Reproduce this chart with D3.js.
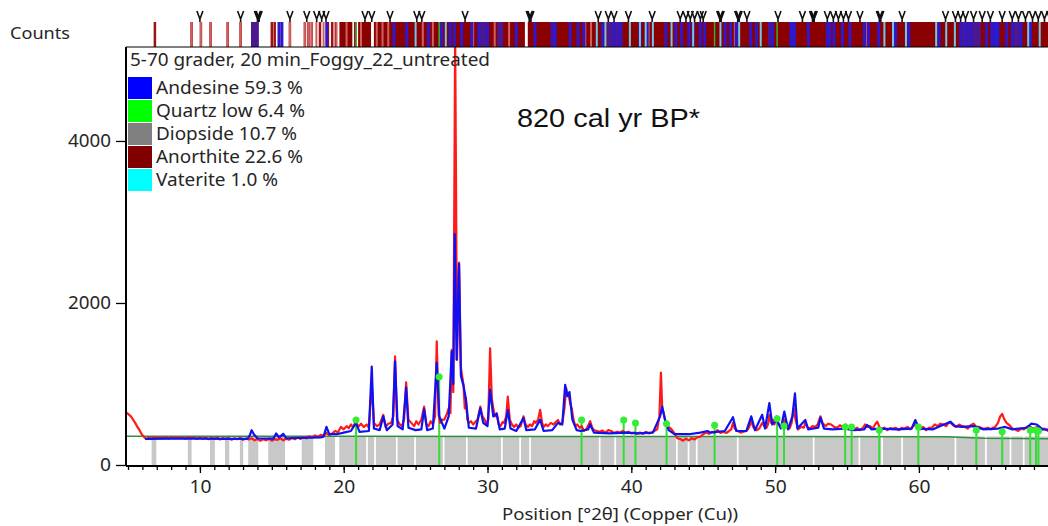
<!DOCTYPE html>
<html>
<head>
<meta charset="utf-8">
<script src="https://cdn.jsdelivr.net/npm/d3@7"></script>
<style>
  html, body { margin: 0; padding: 0; background: #fff; }
  svg { display: block; }
  .lbl { font-family: "Noto Sans", "DejaVu Sans", sans-serif; fill: #262626; }
</style>
</head>
<body>
<svg id="chart" width="1048" height="526"></svg>
<script>
// ---- Scan: measured counts (red) as [2theta, counts] vertices
const measured = [
  [4.86,650],[5.0,630],[5.2,600],[5.35,560],[5.5,520],[5.65,470],[5.8,430],[5.95,380],[6.1,350],[6.2,330],[6.3,320],[6.45,340],[6.6,325],[6.8,345],[7.0,330],[7.2,342],[7.4,330],[7.6,345],[7.8,328],
  [8.0,342],[8.2,330],[8.4,345],[8.6,332],[8.8,340],[9.0,325],[9.2,345],[9.4,330],[9.6,340],[9.8,322],[10.0,338],[10.2,325],[10.4,340],[10.6,318],[10.8,335],[11.0,322],[11.2,340],[11.4,315],[11.6,332],[11.8,320],
  [12.0,335],[12.2,312],[12.4,330],[12.6,318],[12.8,335],[13.0,310],[13.2,328],[13.4,315],[13.6,330],[13.8,305],[14.0,322],[14.2,300],[14.4,318],[14.6,305],[14.8,325],[15.0,300],[15.2,320],[15.4,310],[15.6,330],[15.8,305],
  [16.0,325],[16.2,312],[16.4,335],[16.6,318],[16.8,338],[17.0,322],[17.2,345],[17.4,330],[17.6,355],[17.8,340],[18.0,365],[18.2,345],[18.4,372],[18.6,360],[18.8,395],[19.0,370],[19.2,390],[19.4,420],[19.6,405],
  [19.8,470],[20.0,440],[20.2,480],[20.35,455],[20.5,500],[20.65,470],[20.85,540],[21.0,470],[21.2,510],[21.4,470],[21.6,500],[21.75,460],[21.95,1000],[22.1,520],[22.3,480],[22.5,500],
  [22.75,620],[22.9,470],[23.1,510],[23.3,520],[23.45,600],[23.57,1340],[23.7,560],[23.9,500],[24.05,480],[24.2,560],[24.34,1020],[24.5,560],[24.7,520],[24.9,480],[25.05,540],[25.2,500],
  [25.4,560],[25.59,720],[25.75,500],[25.9,480],[26.05,540],[26.2,500],[26.35,600],[26.47,1525],[26.6,620],[26.7,520],[26.85,560],[27.0,560],[27.15,620],[27.3,700],[27.42,640],[27.51,1420],[27.62,900],[27.75,5300],
  [27.88,1300],[28.02,2500],[28.15,1200],[28.33,990],[28.42,700],[28.49,830],[28.6,560],[28.7,520],[28.85,540],[29.0,500],[29.15,530],[29.3,560],[29.5,720],[29.65,600],[29.8,560],
  [29.92,500],[30.05,560],[30.18,1440],[30.3,820],[30.4,700],[30.52,600],[30.64,640],[30.78,500],[30.9,480],[31.05,530],[31.15,520],[31.3,600],[31.41,845],[31.55,560],[31.7,500],[31.85,470],[32.0,500],[32.15,460],[32.3,480],
  [32.5,600],[32.65,500],[32.8,470],[32.95,500],[33.1,480],[33.25,540],[33.35,520],[33.52,560],[33.66,680],[33.8,520],[33.9,470],[34.05,500],[34.2,480],[34.4,520],[34.6,500],[34.75,530],[34.9,555],[35.05,500],[35.2,520],
  [35.35,700],[35.47,950],[35.55,860],[35.63,880],[35.75,760],[35.85,700],[35.98,560],[36.1,480],[36.25,500],[36.4,460],[36.55,480],[36.7,420],[36.9,450],[37.14,540],[37.28,460],[37.4,430],[37.6,420],[37.8,410],[38.0,425],[38.2,400],
  [38.4,430],[38.6,420],[38.8,395],[39.0,410],[39.2,400],[39.4,420],[39.6,395],[39.8,410],[40.0,390],[40.2,400],[40.4,385],[40.6,400],[40.8,385],[41.0,410],[41.2,390],[41.4,400],[41.6,420],[41.8,440],[41.95,600],[42.06,1140],
  [42.15,700],[42.25,640],[42.35,560],[42.45,520],[42.6,470],[42.8,440],[43.0,390],[43.2,330],[43.4,320],[43.6,300],[43.8,325],[44.0,305],[44.2,330],[44.4,315],[44.6,345],[44.8,350],[45.0,380],[45.2,400],[45.4,385],[45.6,410],
  [45.8,400],[46.0,430],[46.2,395],[46.4,410],[46.6,395],[46.8,420],[46.95,440],[47.07,520],[47.2,450],[47.4,420],[47.6,400],[47.8,410],[48.0,420],[48.1,440],[48.2,470],[48.34,540],[48.5,460],[48.7,430],[48.9,450],[49.1,520],
  [49.25,480],[49.4,460],[49.5,500],[49.6,620],[49.72,520],[49.85,560],[49.95,500],[50.1,600],[50.25,500],[50.4,470],[50.52,500],[50.64,560],[50.8,470],[51.0,450],[51.15,520],[51.29,700],[51.42,560],[51.6,440],[51.8,470],[52.0,460],
  [52.1,520],[52.25,470],[52.4,450],[52.6,480],[52.8,470],[52.95,500],[53.15,600],[53.3,520],[53.5,480],[53.7,510],[53.9,500],[54.1,470],[54.3,460],[54.5,490],[54.7,470],[54.9,500],[55.1,450],[55.3,480],[55.5,440],[55.7,460],
  [55.9,430],[56.1,460],[56.25,500],[56.4,470],[56.6,480],[56.8,450],[56.95,500],[57.1,535],[57.25,470],[57.4,440],[57.6,460],[57.8,430],[58.0,455],[58.2,450],[58.4,460],[58.6,430],[58.8,460],[59.0,450],[59.2,470],[59.4,440],
  [59.55,470],[59.75,500],[59.9,460],[60.1,440],[60.3,470],[60.5,430],[60.7,460],[60.9,460],[61.1,500],[61.3,480],[61.5,510],[61.7,500],[61.9,480],[62.05,520],[62.2,520],[62.4,490],[62.6,470],[62.8,500],[63.0,480],[63.2,470],
  [63.4,450],[63.6,490],[63.8,510],[64.0,470],[64.2,470],[64.4,450],[64.6,450],[64.8,460],[65.0,440],[65.15,460],[65.3,470],[65.5,520],[65.65,600],[65.79,630],[65.95,560],[66.1,520],[66.3,490],[66.5,450],[66.7,440],[66.9,420],
  [67.1,450],[67.3,440],[67.5,470],[67.7,480],[67.9,450],[68.1,460],[68.3,480],[68.5,440],[68.7,450],[69.0,420],[69.2,445],[69.5,430],[69.7,440],[70.0,420]
];

// ---- Calculated profile (blue)
const calculated = [
  [6.2,322],[8.0,325],[10.0,325],[12.0,322],[13.3,322],[13.45,360],[13.6,430],[13.75,380],[14.0,330],[15.1,325],
  [15.3,390],[15.5,340],[15.8,385],[16.0,330],[18.4,340],[18.6,350],[18.8,470],[19.0,380],[19.5,380],[20.0,400],[20.5,420],
  [20.85,520],[21.1,410],[21.75,420],[21.95,1214],[22.1,450],[22.5,430],[22.75,600],[23.0,430],[23.4,500],[23.57,1280],
  [23.75,480],[24.1,440],[24.34,960],[24.5,460],[25.0,430],[25.4,440],[25.59,690],[25.8,430],[26.2,450],[26.47,1260],
  [26.65,600],[27.0,450],[27.3,600],[27.51,1400],[27.62,1000],[27.72,2850],[27.85,1300],[28.02,2480],[28.15,1100],[28.33,980],
  [28.49,820],[28.7,460],[29.2,450],[29.5,700],[29.7,520],[30.0,480],[30.18,930],[30.4,600],[30.64,630],[30.85,440],
  [31.2,450],[31.41,680],[31.6,450],[32.0,420],[32.5,580],[32.7,430],[33.3,440],[33.66,560],[33.9,420],[34.5,430],
  [34.9,520],[35.2,500],[35.4,990],[35.55,850],[35.7,900],[35.9,560],[36.2,430],[36.5,420],[37.0,440],[37.14,500],
  [37.4,400],[38.5,390],[39.6,400],[40.5,390],[41.5,400],[42.0,600],[42.15,720],[42.35,550],[42.6,430],[43.0,380],
  [44.0,380],[44.8,400],[45.3,420],[45.5,400],[46.5,420],[47.07,590],[47.3,420],[48.0,420],[48.34,600],[48.6,430],
  [49.1,620],[49.3,450],[49.6,765],[49.8,500],[50.1,560],[50.4,450],[50.64,660],[50.9,440],[51.2,600],[51.38,885],
  [51.55,450],[52.1,555],[52.3,440],[53.0,460],[53.15,585],[53.4,450],[54.0,440],[54.8,450],[55.5,430],[56.2,440],
  [56.4,495],[56.7,440],[57.3,450],[58.5,440],[59.5,450],[59.75,555],[60.0,450],[61.0,440],[61.5,480],[62.2,535],
  [62.5,480],[63.0,470],[63.8,480],[64.5,440],[65.5,450],[66.0,470],[66.5,440],[67.5,460],[67.8,510],[68.2,500],
  [68.6,440],[70.0,430]
];

// ---- Fitted background
const background = [[4.86,355],[20,355],[40,352],[62,348],[64.5,330],[70,322]];

// ---- Quartz reference peaks: position, calculated height
const quartzPos = [20.86,26.64,36.54,39.47,40.29,42.45,45.79,50.14,50.62,54.87,55.32,57.24,59.96,63.99,65.79,67.74,68.14,68.31];
const quartzCnt = [555,1090,555,555,520,510,490,570,480,470,470,430,470,430,410,430,430,420];

// ---- Grey fill segments under the background [from, to] in degrees 2theta
const greyBlocks = [
  [6.64,6.97],[9.16,9.42],[10.70,11.04],[11.74,12.04],[12.78,13.01],[13.36,14.06],[14.75,15.92],[17.08,17.88],
  [18.70,19.39],[19.69,21.56],[21.68,22.12],[22.24,23.63],[23.75,24.90],[25.02,26.89],[27.01,28.50],[28.62,30.94],
  [31.06,32.21],[32.33,32.90],[33.02,37.74],[37.86,38.82],[38.94,43.11],[43.23,43.92],[44.04,44.49],[44.61,47.34],
  [47.46,52.62],[52.74,55.80],[55.92,57.38],[57.50,58.77],[58.89,62.48],[62.60,64.60],[64.72,66.31],[66.43,67.23],[67.35,70]
];

// ---- Reference pattern strip: phases and their line positions
const anorthiteBands = [[19.7,20.6],[21.0,21.9],[22.1,32.6],[32.8,70]];
const purpleBands = [[13.55,14.1],[24.3,24.45],[29.48,29.97],[30.67,31.09],[38.3,39.4],[49.5,49.9],[62.9,64.3],[66.4,67.06]];
const andesineBands = [[51.0,51.45],[64.97,65.6]];
const anorthiteLines = [6.87,9.42,10.07,10.74,11.93,12.83,15.0,15.2,16.26,17.3,17.55,17.78,18.35,18.9,19.2,19.45,20.8];
const lightLines = [9.42,10.07,10.74,11.93,12.83,16.26,17.3,17.55,17.78,18.1,18.6,19.5,20.2,21.2,22.3,22.7,23.1,25.5,26.2,29.0,30.5,31.5,33.3,36.8,37.2,41.2,47.2,56.4];
const andesineLines = [15.5,15.7,18.82,23.5,24.38,25.9,26.8,27.4,27.7,28.2,28.9,29.4,30.0,32.0,33.3,34.5,34.7,35.75,36.3,36.7,38.0,38.8,39.2,40.6,41.1,42.4,43.1,43.5,44.0,44.3,44.79,45.1,46.53,46.9,47.3,48.3,48.7,49.8,51.27,52.31,53.63,53.8,54.1,54.68,55.2,56.2,56.49,57.2,58.37,59.3,61.4,62.9,63.3,63.6,64.7,65.1,66.1,66.5,67.1,67.76];
const vateriteLines = [25.0,27.1,37.6,38.2,39.9,40.6,41.0,41.5,42.8,44.3,46.2,47.5,49.0,57.6,58.2,59.1,61.2,61.9,62.5,67.6,68.4];
const stripQuartz = [20.86,26.64,45.79,50.14];
const peakMarks = [10.0,12.83,14.0,14.06,14.12,16.26,17.43,18.12,18.47,18.77,21.48,21.95,23.22,25.08,25.43,28.44,32.9,32.96,33.02,
  37.7,38.4,38.8,39.8,41.45,43.4,43.8,44.1,44.4,44.8,45.0,46.15,46.2,46.25,47.4,47.44,47.5,48.04,50.2,51.9,52.6,52.66,52.72,
  53.63,54.05,54.4,54.75,55.1,55.9,57.25,57.3,57.35,58.83,61.85,62.54,62.9,63.24,63.8,64.4,64.97,65.79,66.49,66.92,67.41,67.9,68.3,68.73,69.1];

// ---- Legend
const scanName = "5-70 grader, 20 min_Foggy_22_untreated";
const phaseNames = ["Andesine 59.3 %","Quartz low 6.4 %","Diopside 10.7 %","Anorthite 22.6 %","Vaterite 1.0 %"];
const phaseColors = ["#0000ff","#00ff00","#808080","#800000","#00ffff"];
const phaseLabelWidths = [147,149,141,147,122];

// ---- Axes
const xTicks = [10,20,30,40,50,60];
const yTicks = [0,2000,4000];

const svg = d3.select("#chart");
const W = 1048;
const plotLeft = 126, plotTop = 47, plotBottom = 465;

const x = d3.scaleLinear().domain([4.86, 70]).range([plotLeft, plotLeft + 65.14 * 14.38]);
const y = d3.scaleLinear().domain([0, 5160]).range([plotBottom, plotTop]);

// squeeze a label into the given width
function fit(sel, w) {
  sel.attr("textLength", w).attr("lengthAdjust", "spacingAndGlyphs");
}

svg.append("defs").append("clipPath").attr("id","clip")
  .append("rect").attr("x", plotLeft).attr("y", plotTop).attr("width", W - plotLeft).attr("height", plotBottom - plotTop);
const plot = svg.append("g");

// grey fill blocks
plot.append("g").selectAll("rect").data(greyBlocks).join("rect")
  .attr("x", d => x(d[0])).attr("width", d => x(d[1]) - x(d[0]))
  .attr("y", y(352)).attr("height", y(0) - y(352))
  .attr("fill", "#c8c8c8");

// background line
plot.append("path").datum(background)
  .attr("d", d3.line().x(d => x(d[0])).y(d => y(d[1])))
  .attr("fill","none").attr("stroke","#2f8f3f").attr("stroke-width",1.5);

// quartz sticks with markers
const qData = quartzPos.map((p,i) => [p, quartzCnt[i]]);
plot.append("g").selectAll("line").data(qData).join("line")
  .attr("x1", d => x(d[0])).attr("x2", d => x(d[0]))
  .attr("y1", y(0)).attr("y2", d => y(d[1]))
  .attr("stroke","#33dd33").attr("stroke-width",2);

const lineGen = d3.line().x(d => x(d[0])).y(d => y(d[1]));
const dataG = plot.append("g").attr("clip-path","url(#clip)");
dataG.append("path").datum(measured).attr("d", lineGen)
  .attr("fill","none").attr("stroke","#ff1a1a").attr("stroke-width",2.2).attr("stroke-linejoin","round");
dataG.append("path").datum(calculated).attr("d", lineGen)
  .attr("fill","none").attr("stroke","#1010f0").attr("stroke-width",2.2).attr("stroke-linejoin","round");

plot.append("g").selectAll("circle").data(qData).join("circle")
  .attr("cx", d => x(d[0])).attr("cy", d => y(d[1])).attr("r", 3.5).attr("fill","#33ee33");

// ---- reference strip
const sTop = 22, sBot = 47;
const strip = svg.append("g");
function bands(arr, color) {
  strip.append("g").selectAll("rect").data(arr).join("rect")
    .attr("x", d => x(d[0])).attr("width", d => x(d[1]) - x(d[0]))
    .attr("y", sTop).attr("height", sBot - sTop).attr("fill", color);
}
function sticks(arr, color, w) {
  strip.append("g").selectAll("rect").data(arr).join("rect")
    .attr("x", d => x(d) - w/2).attr("width", w)
    .attr("y", sTop).attr("height", sBot - sTop).attr("fill", color);
}
bands(anorthiteBands, "#8b0000");
sticks(anorthiteLines, "#a01010", 2.5);
sticks(lightLines, "#d06060", 2);
bands(purpleBands, "#4a1890");
bands(andesineBands, "#2a1ad0");
sticks(andesineLines, "#3018c8", 3);
sticks(vateriteLines, "#70c8e8", 2);
sticks(stripQuartz, "#30b030", 1.5);

// peak marks above the strip
strip.append("g").selectAll("path").data(peakMarks).join("path")
  .attr("d", d => { const px = x(d); return `M${px-3},11L${px},19L${px+3},11M${px},19L${px},22`; })
  .attr("fill","none").attr("stroke","#111").attr("stroke-width",1.6);

// ---- axes
const axisG = svg.append("g");
axisG.append("line").attr("x1", plotLeft).attr("x2", plotLeft).attr("y1", plotTop).attr("y2", plotBottom + 1)
  .attr("stroke","#000").attr("stroke-width",2);
axisG.append("line").attr("x1", plotLeft).attr("x2", W).attr("y1", plotBottom + 1).attr("y2", plotBottom + 1)
  .attr("stroke","#000").attr("stroke-width",2);
axisG.append("line").attr("x1", plotLeft).attr("x2", W).attr("y1", plotTop).attr("y2", plotTop)
  .attr("stroke","#000").attr("stroke-width",1);

const xAxis = d3.axisBottom(x).tickValues(d3.range(5, 70, 1)).tickSize(4).tickFormat("");
svg.append("g").attr("transform", `translate(0,${plotBottom + 1})`).call(xAxis)
  .call(g => g.select(".domain").remove())
  .call(g => g.selectAll("line").attr("stroke","#000").attr("stroke-width",1.3));
const xMajor = d3.axisBottom(x).tickValues(xTicks).tickSize(7).tickPadding(7);
svg.append("g").attr("transform", `translate(0,${plotBottom + 1})`).call(xMajor)
  .call(g => g.select(".domain").remove())
  .call(g => g.selectAll("line").attr("stroke","#000").attr("stroke-width",1.3))
  .call(g => g.selectAll("text").attr("class","lbl").attr("font-size",18)
    .attr("textLength", 22).attr("lengthAdjust","spacingAndGlyphs"));

const yAxis = d3.axisLeft(y).tickValues(yTicks).tickSize(10).tickPadding(5).tickFormat(d3.format("d"));
svg.append("g").attr("transform", `translate(${plotLeft},0)`).call(yAxis)
  .call(g => g.select(".domain").remove())
  .call(g => g.selectAll("line").attr("stroke","#000").attr("stroke-width",1.3))
  .call(g => g.selectAll("text").attr("class","lbl").attr("font-size",18)
    .attr("textLength", d => d === 0 ? 11 : 43).attr("lengthAdjust","spacingAndGlyphs"));

svg.append("text").attr("class","lbl").attr("x", 10).attr("y", 39)
  .attr("font-size",17).text("Counts").call(fit, 60);
svg.append("text").attr("class","lbl").attr("x", 502).attr("y", 520)
  .attr("font-size",17).text("Position [°2θ] (Copper (Cu))").call(fit, 236);

// ---- legend
const leg = svg.append("g");
leg.append("text").attr("class","lbl").attr("x", 130).attr("y", 66)
  .attr("font-size",18).text(scanName).call(fit, 360);
const rows = leg.selectAll("g.row").data(phaseNames).join("g").attr("class","row")
  .attr("transform", (d,i) => `translate(128,${77 + i * 23})`);
rows.append("rect").attr("width", 24).attr("height", 22).attr("fill", (d,i) => phaseColors[i]);
rows.append("text").attr("class","lbl").attr("x", 28).attr("y", 17)
  .attr("font-size",18).text(d => d)
  .attr("textLength", (d,i) => phaseLabelWidths[i]).attr("lengthAdjust","spacingAndGlyphs");

// ---- sample age annotation
svg.append("text").attr("x", 517).attr("y", 127)
  .attr("font-family","Liberation Sans, Arial, sans-serif").attr("font-size",26).attr("fill","#111")
  .text("820 cal yr BP*").call(fit, 183);
</script>
</body>
</html>
